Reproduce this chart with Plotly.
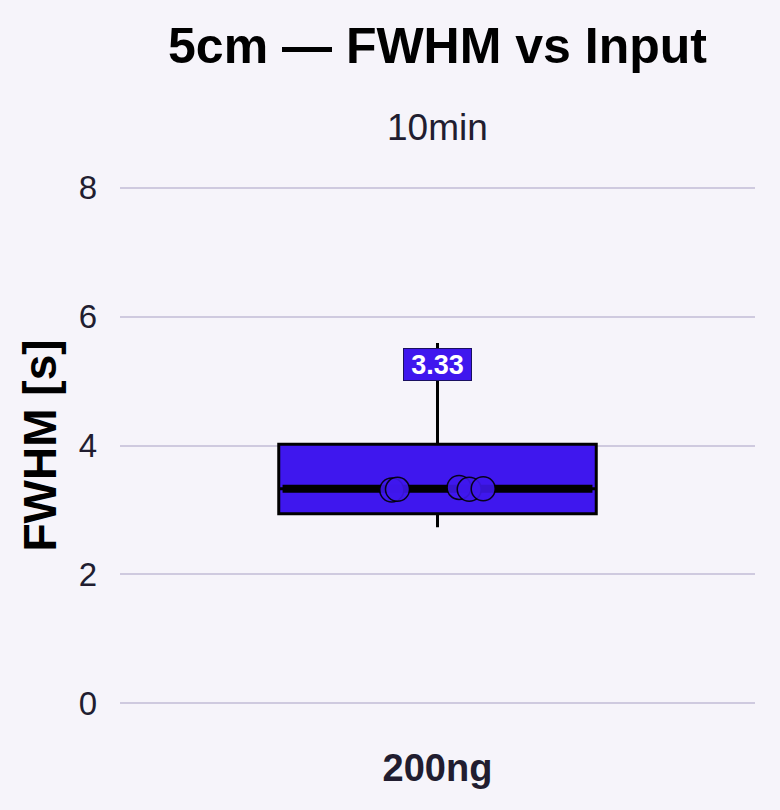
import plotly.graph_objects as go

# ---- data ----
categories = ["200ng"]
q1 = [2.94]
median = [3.33]
q3 = [4.02]
lower_fence = [2.73]
upper_fence = [5.59]
point_values = [3.31, 3.32, 3.35, 3.32, 3.33]
point_jitter = [-0.072, -0.063, 0.034, 0.050, 0.072]
label_text = ["3.33"]
label_y = [5.25]
y_ticks = [0, 2, 4, 6, 8]

BOX_COLOR = "#3F17EE"
BG = "#F6F4FA"
GRID = "#CFCADF"
TEXT = "#211D30"
box_width = 0.5

W, H = 772, 802  # page body has an 8px offset
ML, MR, MT, MB = 112, 25, 141, 68

fig = go.Figure()
fig.add_trace(go.Box(
    x=[0], q1=q1, median=median, q3=q3,
    lowerfence=lower_fence, upperfence=upper_fence,
    fillcolor=BOX_COLOR, line=dict(color="black", width=3),
    width=box_width, whiskerwidth=0, boxpoints=False,
    showlegend=False, hoverinfo="skip",
))
# thick median line
fig.add_trace(go.Scatter(
    x=[-box_width / 2 + 0.006, box_width / 2 - 0.006], y=[median[0], median[0]],
    mode="lines", line=dict(color="black", width=8), showlegend=False,
))
fig.add_trace(go.Scatter(
    x=point_jitter, y=point_values, mode="markers",
    marker=dict(size=24, color=BOX_COLOR, opacity=0.88,
                line=dict(color="black", width=1.5)),
    showlegend=False,
))

fig.add_annotation(
    x=0, y=label_y[0], xref="x", yref="y", text="<b>" + label_text[0] + "</b>",
    showarrow=False, font=dict(color="white", size=27, family="Liberation Sans"),
    bgcolor=BOX_COLOR, bordercolor="#1a1060", borderwidth=1, borderpad=3,
    width=61, height=25,
)
fig.add_annotation(
    x=0.5, y=1.036, xref="paper", yref="paper", text="10min",
    showarrow=False, yanchor="middle",
    font=dict(size=37, color=TEXT, family="Liberation Sans"),
)

fig.update_layout(
    width=W, height=H,
    paper_bgcolor=BG, plot_bgcolor=BG,
    margin=dict(l=ML, r=MR, t=MT, b=MB, autoexpand=False),
    title=dict(text="<b>5cm — FWHM vs Input</b>", x=(ML + (W - ML - MR) / 2) / W,
               xanchor="center", y=1 - 37 / H, yanchor="middle", yref="container",
               font=dict(size=50, color="black", family="Liberation Sans")),
    font=dict(family="Liberation Sans", color=TEXT),
)
fig.update_xaxes(
    range=[-0.5, 0.5], tickvals=[0], ticktext=["<b>" + categories[0] + "</b>"],
    tickfont=dict(size=38, color=TEXT), showgrid=False, zeroline=False, showline=False,
)
fig.update_yaxes(
    range=[-0.6, 8.6], tickvals=y_ticks, tickfont=dict(size=33, color=TEXT),
    gridcolor=GRID, gridwidth=2, zeroline=False, showline=False,
    ticklabelstandoff=22,
    title=dict(text="<b>FWHM [s]</b>", font=dict(size=46, color="black"), standoff=7),
)

fig.write_html("out.html",
               post_script="document.body.style.backgroundColor='%s';" % BG)
